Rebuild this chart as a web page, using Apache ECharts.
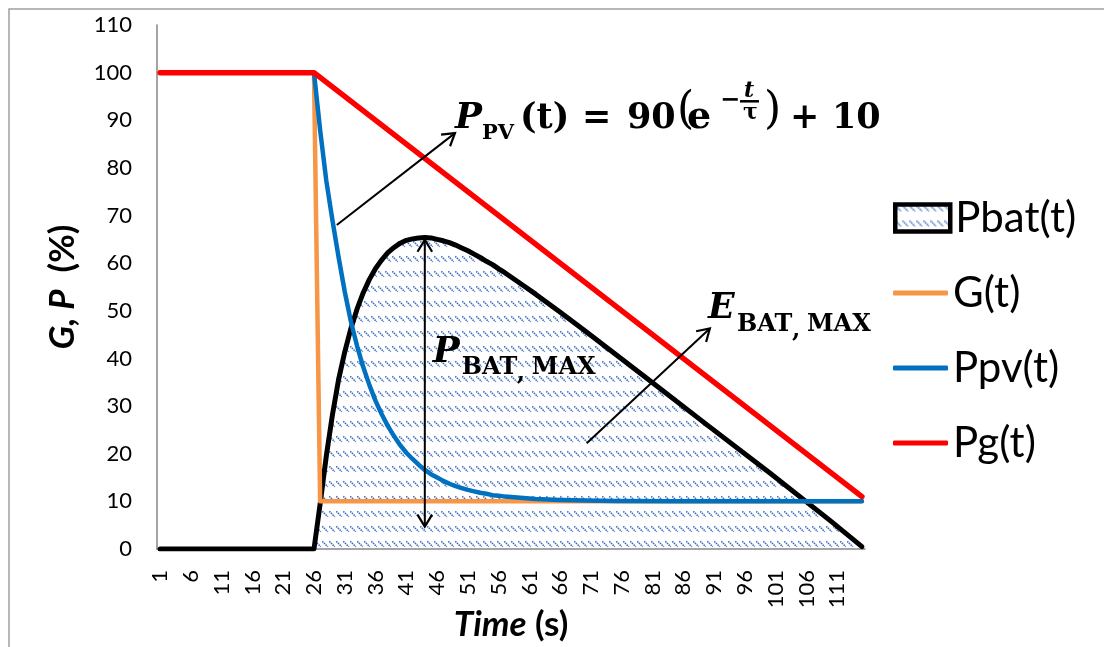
<!DOCTYPE html>
<html><head><meta charset="utf-8">
<script src="https://cdn.jsdelivr.net/npm/echarts@6/dist/echarts.min.js"></script>
<style>html,body{margin:0;padding:0;background:#fff}#c{width:1104px;height:647px}</style>
</head><body><div id="c"></div>
<script>
// ---- axis categories (time in seconds) ----
const categories = [];
for (let i = 1; i <= 115; i++) categories.push(String(i));
const yMin = 0, yMax = 110, yStep = 10;

// ---- series values: [time, value %] ----
const pgPts = [[1,100],[26,100],[115,11]];
const gPts = [[1,100],[26,100],[27,10],[115,10]];
const ppvPts = [[1,100],[26,100],[27,87.9],[28,77.3],[29,69.0],[30,61.2],[31,54.0],[32,47.7],[33,42.6],[34,38.2],
  [35,34.4],[36,31.1],[37,28.3],[38,25.8],[39,23.7],[40,21.8],[41,20.2],[42,18.9],[43,17.7],[44,16.6],
  [45,15.7],[46,15.0],[47,14.3],[48,13.7],[49,13.2],[50,12.8],[51,12.4],[52,12.1],[53,11.8],[54,11.6],
  [55,11.3],[56,11.2],[57,11.0],[58,10.9],[59,10.8],[60,10.7],[62,10.5],[64,10.4],[66,10.3],[70,10.2],
  [75,10.1],[85,10.0],[115,10.0]];
const pbatPts = [[1,0],[26,0],[27,9.5],[28,19.5],[29,28.2],[30,35.6],[31,41.4],[32,46.3],[33,50.4],[34,53.8],
  [35,56.6],[36,58.9],[37,60.7],[38,62.2],[39,63.3],[40,64.2],[41,64.8],[42,65.1],[43,65.3],[44,65.4],
  [45,65.3],[46,65.0],[47,64.7],[48,64.3],[49,63.8],[50,63.2],[51,62.6],[52,61.9],[53,61.2],[54,60.4],
  [55,59.7],[56,58.8],[57,58.0],[58,57.1],[59,56.2],[60,55.3],[62,53.5],[64,51.6],[66,49.7],[70,45.8],
  [80,35.9],[90,25.9],[100,16.0],[110,5.8],[115,0.5]];

// ---- annotation anchors in data space [time, value] ----
const formulaAnchor = [48.9, 88.0];
const pbatMaxAnchor = [45.3, 39.0];
const ebatMaxAnchor = [90.0, 48.1];
const arrowPV = [[29.7, 68.0], [48.9, 87.3]];
const arrowPBAT = [[44.0, 4.7], [44.0, 64.9]];
const arrowEBAT = [[70.3, 22.2], [90.3, 46.3]];

const toCat = pts => pts.map(p => [String(p[0]), p[1]]);

function makePattern() {
  const c = document.createElement('canvas');
  c.width = 7; c.height = 15;
  const g = c.getContext('2d');
  g.strokeStyle = 'rgba(55,105,192,0.95)';
  g.lineWidth = 1.6;
  g.setLineDash([1.6, 0.8]);
  g.beginPath(); g.moveTo(0.2, 1.2); g.lineTo(5.8, 6.8); g.stroke();
  return c;
}
const pat = makePattern();
const patFill = { image: pat, repeat: 'repeat' };

const FONT = 'Lato';
const chart = echarts.init(document.getElementById('c'), null, { renderer: 'canvas' });
const option = {
  animation: false,
  backgroundColor: '#fff',
  grid: { left: 157, right: 239, top: 25, bottom: 98, containLabel: false, outerBoundsMode: 'none' },
  xAxis: {
    type: 'category', data: categories, boundaryGap: true,
    axisLine: { lineStyle: { color: '#868686', width: 1.5 } },
    axisTick: { show: false },
    axisLabel: { interval: 4, rotate: 90, fontSize: 22, fontFamily: FONT, color: '#000', margin: 21 },
    name: '{a|Time}{b| (s)}', nameLocation: 'middle', nameGap: 58, nameMoveOverlap: false,
    nameTextStyle: { fontSize: 35, fontWeight: 'bold', fontFamily: FONT, color: '#000',
      rich: { a: { fontSize: 35, fontWeight: 'bold', fontStyle: 'italic', fontFamily: FONT, color: '#000' },
              b: { fontSize: 35, fontWeight: 'bold', fontFamily: FONT, color: '#000' } } }
  },
  yAxis: {
    type: 'value', min: yMin, max: yMax, interval: yStep,
    axisLine: { show: true, lineStyle: { color: '#868686', width: 1.5 } },
    axisTick: { show: false }, splitLine: { show: false },
    axisLabel: { fontSize: 22, fontFamily: FONT, color: '#000', margin: 25 },
    name: '{a|G, P}{b|  (%)}', nameLocation: 'middle', nameRotate: 90, nameGap: 77, nameMoveOverlap: false,
    nameTextStyle: { fontSize: 35, fontWeight: 'bold', fontFamily: FONT, color: '#000',
      rich: { a: { fontSize: 35, fontWeight: 'bold', fontStyle: 'italic', fontFamily: FONT, color: '#000' },
              b: { fontSize: 35, fontWeight: 'bold', fontFamily: FONT, color: '#000' } } }
  },
  legend: [
    { orient: 'vertical', left: 893, top: 197, itemWidth: 55, itemHeight: 27, padding: 0,
      textStyle: { fontSize: 42, fontFamily: FONT, color: '#000' },
      data: [{ name: 'Pbat(t)', icon: 'rect', itemStyle: { color: patFill, borderColor: '#000', borderWidth: 4.5 } }] },
    { orient: 'vertical', left: 893, top: 272, itemWidth: 55, itemHeight: 5, itemGap: 33, padding: 0,
      icon: 'roundRect',
      textStyle: { fontSize: 42, fontFamily: FONT, color: '#000' },
      data: ['G(t)', 'Ppv(t)', 'Pg(t)'] }
  ],
  series: [
    { name: 'Pbat(t)', type: 'line', data: toCat(pbatPts), symbol: 'none',
      lineStyle: { color: '#000', width: 5, join: 'round', cap: 'round' },
      itemStyle: { color: '#000' }, areaStyle: { color: patFill, opacity: 1 } },
    { name: 'G(t)', type: 'line', data: toCat(gPts), symbol: 'none',
      lineStyle: { color: '#F79646', width: 4.5, join: 'round', cap: 'round' }, itemStyle: { color: '#F79646' } },
    { name: 'Ppv(t)', type: 'line', data: toCat(ppvPts), symbol: 'none',
      lineStyle: { color: '#0070C0', width: 4.5, join: 'round', cap: 'round' }, itemStyle: { color: '#0070C0' } },
    { name: 'Pg(t)', type: 'line', data: toCat(pgPts), symbol: 'none',
      lineStyle: { color: '#FF0000', width: 5.5, join: 'round', cap: 'round' }, itemStyle: { color: '#FF0000' } }
  ]
};
chart.setOption(option);

// ---- annotations positioned from data coordinates ----
function P(t, v) {
  const xa = chart.convertToPixel({ xAxisIndex: 0 }, categories[0]);
  const xb = chart.convertToPixel({ xAxisIndex: 0 }, categories[categories.length - 1]);
  const x = xa + (t - 1) * (xb - xa) / (categories.length - 1);
  const y = chart.convertToPixel({ yAxisIndex: 0 }, v);
  return [x, y];
}
const SERIF = '"DejaVu Serif", "Liberation Serif", serif';
function txt(str, x, yBase, size, fstyle, weight) {
  return { type: 'text', z: 100, silent: true,
    style: { text: str, x: x, y: yBase - 0.3 * size, fill: '#000', align: 'left', verticalAlign: 'middle',
      font: `${fstyle} ${weight} ${size}px ${SERIF}` } };
}
function head(tip, from) {
  const dx = tip[0] - from[0], dy = tip[1] - from[1], L = Math.hypot(dx, dy);
  const ux = dx / L, uy = dy / L, len = 14, a = 0.55, c = Math.cos(a), s = Math.sin(a);
  const p1 = [tip[0] - len * (ux * c - uy * s), tip[1] - len * (uy * c + ux * s)];
  const p2 = [tip[0] - len * (ux * c + uy * s), tip[1] - len * (uy * c - ux * s)];
  return { type: 'polyline', z: 100, silent: true, shape: { points: [p1, tip, p2] },
    style: { stroke: '#000', lineWidth: 2.2, fill: null, lineJoin: 'miter' } };
}
function arrow(pair, both) {
  const a = P(pair[0][0], pair[0][1]), b = P(pair[1][0], pair[1][1]);
  const els = [{ type: 'line', z: 100, silent: true, shape: { x1: a[0], y1: a[1], x2: b[0], y2: b[1] },
    style: { stroke: '#000', lineWidth: 2 } }, head(b, a)];
  if (both) els.push(head(a, b));
  return els;
}
const g = [];
g.push({ type: 'rect', z: 100, silent: true, shape: { x: 9, y: 9, width: 1300, height: 900 },
  style: { stroke: '#a0a0a0', lineWidth: 1.5, fill: null } });
g.push(...arrow(arrowPV, false), ...arrow(arrowPBAT, true), ...arrow(arrowEBAT, false));

// formula P_PV(t) = 90(e^{-t/tau}) + 10
{
  const [x, y] = P(formulaAnchor[0], formulaAnchor[1]);
  const pieces = [
    ['P', 0, 0, 36, 'italic', 'bold'], ['PV', 27, 10, 21, 'normal', 'bold'],
    ['(t)', 65, 0, 35, 'normal', 'bold'], ['=', 127, 0, 35, 'normal', 'bold'],
    ['90', 172, 0, 35, 'normal', 'bold'], ['(', 222, -5, 44, 'normal', 'normal'],
    ['e', 232, 0, 38, 'normal', 'bold'], ['\u2212', 265, -22, 24, 'normal', 'bold'],
    ['t', 289, -32, 22, 'italic', 'bold'], ['\u03C4', 288, -10, 22, 'normal', 'bold'],
    [')', 309, -5, 44, 'normal', 'normal'], ['+', 335, 0, 35, 'normal', 'bold'],
    ['10', 377, 0, 35, 'normal', 'bold']
  ];
  pieces.forEach(p => g.push(txt(p[0], x + p[1], y + p[2], p[3], p[4], p[5])));
  g.push({ type: 'line', z: 100, silent: true, shape: { x1: x + 285, y1: y - 28.5, x2: x + 304, y2: y - 28.5 },
    style: { stroke: '#000', lineWidth: 2.5 } });
}
// P_BAT,MAX and E_BAT,MAX
function subLabel(anchor, main, mainSize) {
  const [x, y] = P(anchor[0], anchor[1]);
  g.push(txt(main, x, y, mainSize, 'italic', 'bold'));
  g.push(txt('BAT', x + 29, y + 12, 24, 'normal', 'bold'));
  g.push(txt(',', x + 84, y + 18, 24, 'normal', 'bold'));
  g.push(txt('MAX', x + 99, y + 12, 24, 'normal', 'bold'));
}
subLabel(pbatMaxAnchor, 'P', 36);
subLabel(ebatMaxAnchor, 'E', 35);

chart.setOption({ graphic: g });
</script>
</body></html>
